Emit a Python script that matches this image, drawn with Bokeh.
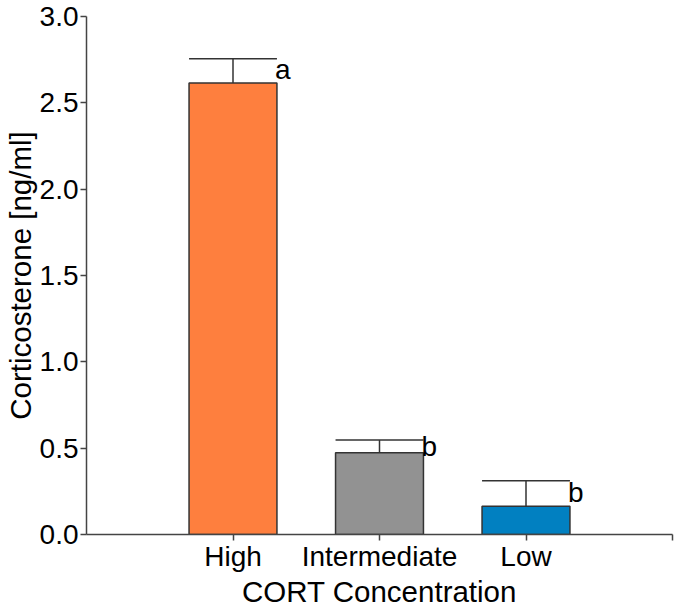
from bokeh.plotting import figure
from bokeh.models import Range1d, FixedTicker, NumeralTickFormatter, ColumnDataSource
from bokeh.core.properties import value
from bokeh.embed import file_html
from bokeh.resources import INLINE

categories = ["High", "Intermediate", "Low"]
means = [2.615, 0.474, 0.163]
upper = [2.756, 0.547, 0.311]
letters = ["a", "b", "b"]
letter_y = [2.64, 0.46, 0.19]
colors = ["#FE7F3E", "#929292", "#0180C1"]
y_ticks = [0.0, 0.5, 1.0, 1.5, 2.0, 2.5, 3.0]

FONT = "Liberation Sans"
AXC = "#444444"
BW = 0.6

xs = [i + 1 for i in range(len(categories))]
src = ColumnDataSource(dict(
    x=xs, top=means, up=upper, color=colors,
    cap0=[x - BW / 2 for x in xs], cap1=[x + BW / 2 for x in xs],
    lx=[x + BW / 2 for x in xs], ly=letter_y, lt=letters,
))

p = figure(width=675, height=610, output_backend="svg", toolbar_location=None,
           x_range=Range1d(0, len(categories) + 1), y_range=Range1d(0, 3.0),
           min_border_left=86, min_border_right=3, min_border_top=16, min_border_bottom=40)

p.vbar(x="x", top="top", bottom=0, width=BW, fill_color="color",
       line_color="#333333", line_width=1.5, source=src)
p.segment(x0="x", y0="top", x1="x", y1="up", line_color="#333333", line_width=1.5, source=src)
p.segment(x0="cap0", y0="up", x1="cap1", y1="up", line_color="#333333", line_width=1.5, source=src)
p.text(x="lx", y="ly", text="lt", text_font=value(FONT), text_font_size="28px",
       text_baseline="alphabetic", text_align="left", text_color="#000000",
       y_offset=-9, x_offset=-2, source=src)

p.xgrid.grid_line_color = None
p.ygrid.grid_line_color = None
p.outline_line_color = None

xa = p.xaxis[0]
xa.ticker = FixedTicker(ticks=xs + [len(categories) + 1])
overrides = {x: c for x, c in zip(xs, categories)}
overrides[len(categories) + 1] = ""
xa.major_label_overrides = overrides
xa.axis_label = "CORT Concentration"

ya = p.yaxis[0]
ya.ticker = FixedTicker(ticks=y_ticks)
ya.formatter = NumeralTickFormatter(format="0.0")
ya.axis_label = "Corticosterone [ng/ml]"

for ax in (xa, ya):
    ax.axis_line_color = AXC
    ax.axis_line_width = 1.5
    ax.major_tick_line_color = AXC
    ax.major_tick_line_width = 1.5
    ax.major_tick_in = 0
    ax.major_tick_out = 6
    ax.minor_tick_line_color = None
    ax.major_label_text_font = FONT
    ax.major_label_text_font_size = "28px"
    ax.major_label_text_color = "#000000"
    ax.major_label_text_line_height = 1.0
    ax.axis_label_text_font = FONT
    ax.axis_label_text_font_size = "29.5px"
    ax.axis_label_text_font_style = "normal"
    ax.axis_label_text_color = "#000000"
    ax.axis_label_text_line_height = 1.0

xa.major_label_standoff = 0
xa.axis_label_standoff = 0
ya.major_label_standoff = 2
ya.axis_label_standoff = 0

open("out.html", "w").write(file_html(p, INLINE))
